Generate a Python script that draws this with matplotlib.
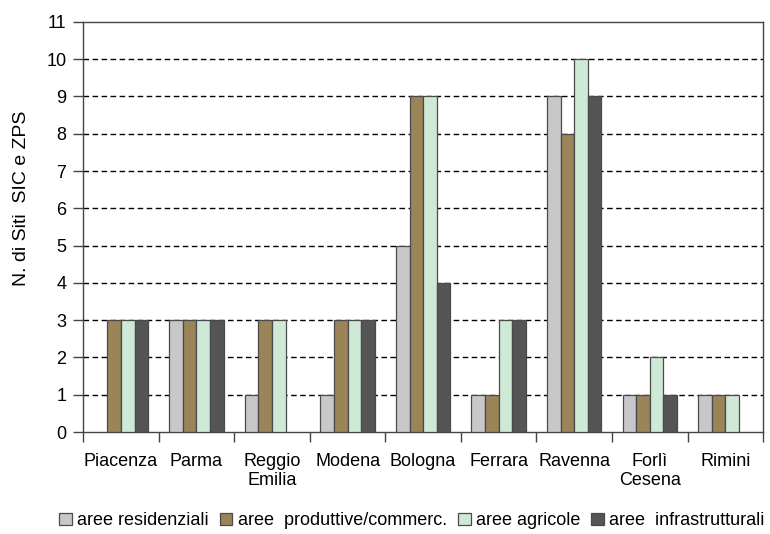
import numpy as np
import matplotlib.pyplot as plt
from matplotlib.patches import Patch

plt.rcParams['font.family'] = ['Liberation Sans', 'DejaVu Sans']

provinces = ['Piacenza', 'Parma', 'Reggio\nEmilia', 'Modena', 'Bologna',
             'Ferrara', 'Ravenna', 'Forlì\nCesena', 'Rimini']
residenziali = [0, 3, 1, 1, 5, 1, 9, 1, 1]
produttive = [3, 3, 3, 3, 9, 1, 8, 1, 1]
agricole = [3, 3, 3, 3, 9, 3, 10, 2, 1]
infrastrutturali = [3, 3, 0, 3, 4, 3, 9, 1, 0]

series = [
    ('aree residenziali', residenziali, '#c8c8ca'),
    ('aree  produttive/commerc.', produttive, '#9a8458'),
    ('aree agricole', agricole, '#cfe9d7'),
    ('aree  infrastrutturali', infrastrutturali, '#555555'),
]

fig = plt.figure(figsize=(7.7, 5.34), dpi=100)
ax = fig.add_axes([0.108, 0.191, 0.883, 0.768])

x = np.arange(len(provinces))
w = 0.18
handles = []
for i, (name, vals, col) in enumerate(series):
    vals = np.array(vals, dtype=float)
    # no outline for empty bars
    lw = np.where(vals > 0, 0.9, 0.0)
    ax.bar(x + (i - 1.5) * w, vals, w, color=col, edgecolor='#4a4a4a',
           linewidth=lw, zorder=3)
    handles.append(Patch(facecolor=col, edgecolor='#4a4a4a', linewidth=0.9, label=name))

ax.set_xlim(-0.5, len(provinces) - 0.5)
ax.set_ylim(0, 11)
ax.set_yticks(range(0, 12))
ax.set_yticklabels([str(v) for v in range(0, 12)], fontsize=13)
ax.set_xticks(x)
ax.set_xticklabels(provinces, fontsize=13)
ax.set_xticks(np.arange(-0.5, len(provinces)), minor=True)
ax.tick_params(axis='x', which='major', length=0, pad=15)
ax.tick_params(axis='x', which='minor', length=7, width=1, color='#444444')
ax.tick_params(axis='y', length=7, width=1, color='#444444', pad=5)

for v in range(1, 11):
    ax.axhline(v, color='black', linestyle=(0, (4, 2.5)), linewidth=1, zorder=1)

for s in ax.spines.values():
    s.set_color('#444444')
    s.set_linewidth(1)

ax.set_ylabel('N. di Siti  SIC e ZPS', fontsize=14)
ax.yaxis.set_label_coords(-0.078, 0.57)

fig.legend(handles=handles, loc='lower center', bbox_to_anchor=(0.535, -0.022), ncol=4,
           frameon=False, fontsize=13, handlelength=0.7, handleheight=0.7,
           handletextpad=0.3, columnspacing=0.6)

fig.savefig('out.png', dpi=100)
